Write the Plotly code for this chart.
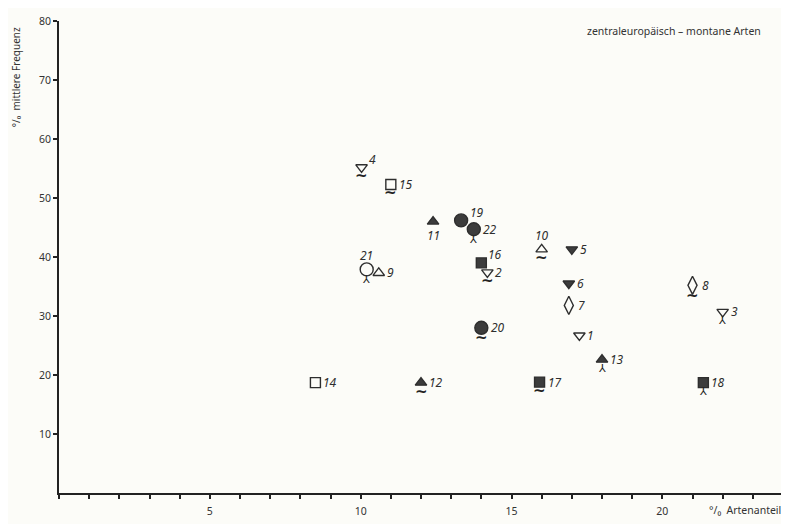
import plotly.graph_objects as go

# ---- data ----
ids = [1, 2, 3, 4, 5, 6, 7, 8, 9, 10, 11, 12, 13, 14, 15, 16, 17, 18, 19, 20, 21, 22]
x_artenanteil = [17.25, 14.2, 22.0, 10.03, 17.0, 16.9, 16.9, 21.0, 10.6, 16.0, 12.4,
                 12.0, 18.0, 8.5, 11.0, 14.0, 15.93, 21.36, 13.33, 14.0, 10.2, 13.75]
y_frequenz = [26.7, 37.4, 30.7, 55.2, 41.3, 35.5, 31.8, 35.2, 37.3, 41.3, 46.0,
              18.7, 22.6, 18.7, 52.3, 39.0, 18.8, 18.7, 46.2, 28.0, 37.9, 44.7]
symbols = ["triangle-down-open", "triangle-down-open", "triangle-down-open", "triangle-down-open",
           "triangle-down", "triangle-down", "diamond-tall-open", "diamond-tall-open",
           "triangle-up-open", "triangle-up-open", "triangle-up", "triangle-up", "triangle-up",
           "square-open", "square-open", "square", "square", "square",
           "circle", "circle", "circle-open", "circle"]
# sub-mark drawn under the symbol: "~" tilde, "x" stick, "" none
submarks = ["", "~", "x", "~", "", "", "", "~", "", "~", "", "~", "x", "", "~", "", "~", "x",
            "", "~", "x", "x"]
x_ticks = [5, 10, 15, 20]
y_ticks = [10, 20, 30, 40, 50, 60, 70, 80]

# ---- style ----
label_pos = {1: "r", 2: "r", 3: "r", 4: "ru", 5: "r", 6: "r", 7: "r", 8: "r", 9: "r",
             10: "u", 11: "d", 12: "r", 13: "r", 14: "r", 15: "r", 16: "ru", 17: "r",
             18: "r", 19: "ru", 20: "r", 21: "u", 22: "r"}
sizes = []
for s in symbols:
    if s.startswith("circle"):
        sizes.append(13)
    elif s.startswith("square"):
        sizes.append(10)
    elif s.startswith("diamond"):
        sizes.append(13)
    else:
        sizes.append(10)
ink = "#2e2e2e"
fill = "#3c3c3c"

fig = go.Figure()
fig.add_trace(go.Scatter(
    x=x_artenanteil, y=y_frequenz, mode="markers",
    marker=dict(symbol=symbols, size=sizes, opacity=1,
                color=[fill if not s.endswith("open") else ink for s in symbols],
                line=dict(width=1.4, color=ink)),
    hoverinfo="skip", showlegend=False,
))

annotations = []
lab_font = dict(size=12, color="#2e2e2e", family="Noto Sans")
for i, xv, yv, sm, sz in zip(ids, x_artenanteil, y_frequenz, submarks, sizes):
    pos = label_pos[i]
    txt = f"<i>{i}</i>"
    if pos == "r":
        annotations.append(dict(x=xv, y=yv, text=txt, showarrow=False, xanchor="left",
                                xshift=sz / 2 + 1, yshift=0, font=lab_font))
    elif pos == "ru":
        annotations.append(dict(x=xv, y=yv, text=txt, showarrow=False, xanchor="left",
                                xshift=sz / 2, yshift=8, font=lab_font))
    elif pos == "u":
        annotations.append(dict(x=xv, y=yv, text=txt, showarrow=False, xanchor="center",
                                yshift=14, font=lab_font))
    elif pos == "d":
        annotations.append(dict(x=xv, y=yv, text=txt, showarrow=False, xanchor="center",
                                yshift=-14, font=lab_font))
    if sm == "~":
        annotations.append(dict(x=xv, y=yv, text="<b>~</b>", showarrow=False, xanchor="center",
                                yshift=-sz / 2 - 4, font=dict(size=15, color="#222",
                                                               family="DejaVu Sans")))
    elif sm == "x":
        annotations.append(dict(x=xv, y=yv, text="⅄", showarrow=False, xanchor="center",
                                yshift=-sz / 2 - 4, font=dict(size=11, color="#222",
                                                               family="DejaVu Sans")))

annotations.append(dict(xref="paper", yref="paper", x=0.972, y=0.998, xanchor="right", yanchor="top",
                        text="zentraleuropäisch – montane Arten", showarrow=False,
                        font=dict(size=10.5, color="#333")))
annotations.append(dict(xref="paper", yref="paper", x=1.0, y=-0.036, xanchor="right", yanchor="middle",
                        text="°/₀  Artenanteil", showarrow=False,
                        font=dict(size=10.5, color="#333")))
annotations.append(dict(xref="paper", yref="paper", x=-0.06, y=0.88, xanchor="center", yanchor="middle",
                        text="°/₀  mittlere Frequenz", showarrow=False, textangle=-90,
                        font=dict(size=10, color="#333")))

fig.update_layout(
    width=781, height=516,
    margin=dict(l=51, r=6, t=8, b=28),
    paper_bgcolor="#fcfcf8", plot_bgcolor="#fcfcf8",
    font=dict(family="Noto Sans", size=11, color="#333"),
    annotations=annotations,
    shapes=[dict(type="line", xref="paper", yref="paper", x0=1, x1=1, y0=0, y1=1,
                 line=dict(color="#222", width=1.5))],
)
fig.update_xaxes(range=[0, 24], tickvals=x_ticks, ticks="outside", ticklen=4, tickwidth=1.5,
                 tickcolor="#222", showline=True, linecolor="#222", linewidth=1.8,
                 showgrid=False, zeroline=False, tickfont=dict(size=10.5), ticklabelstandoff=3,
                 minor=dict(dtick=1, ticks="outside", ticklen=4, tickwidth=1.5, tickcolor="#222",
                            showgrid=False))
fig.update_yaxes(range=[0, 80], tickvals=y_ticks, ticks="outside", ticklen=4, tickwidth=1.5,
                 tickcolor="#222", showline=True, linecolor="#222", linewidth=1.8,
                 showgrid=False, zeroline=False, tickfont=dict(size=10.5))

fig.write_html("out.html")
